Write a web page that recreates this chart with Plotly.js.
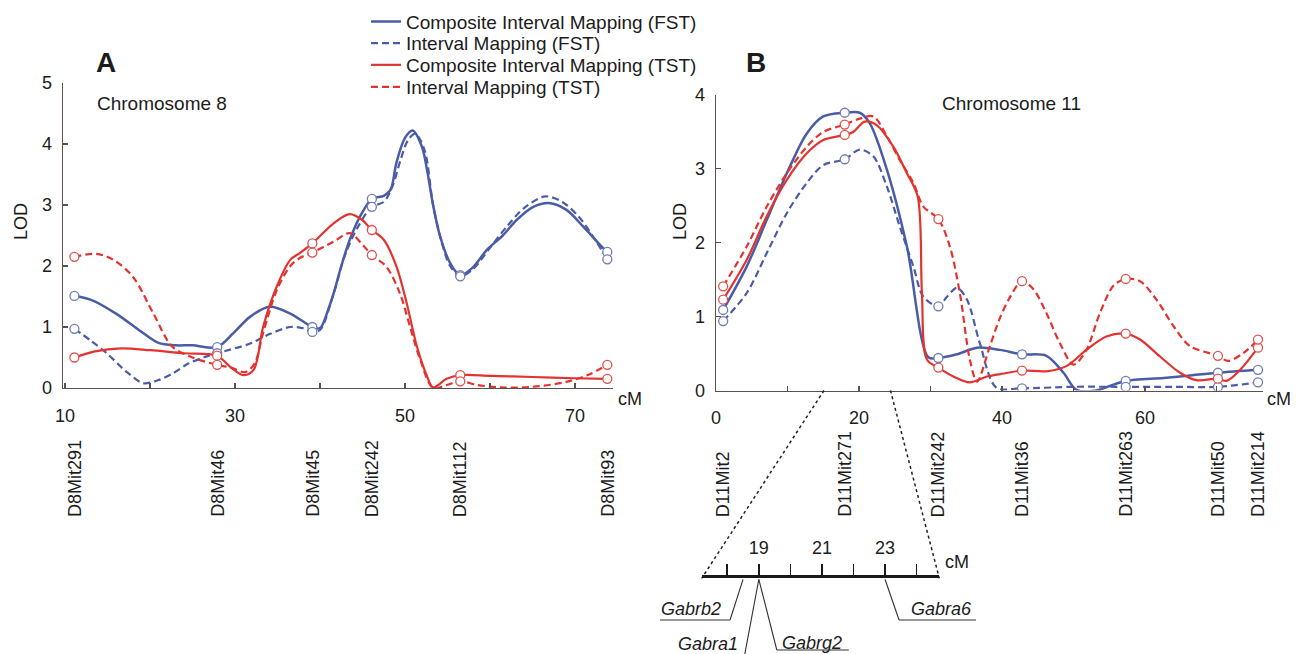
<!DOCTYPE html>
<html>
<head>
<meta charset="utf-8">
<script src="https://cdn.plot.ly/plotly-3.0.1.min.js"></script>
<style>html,body{margin:0;padding:0;background:#fff;}#chart{width:1300px;height:654px;}</style>
</head>
<body>
<div id="chart"></div>
<script>
// ---------------- DATA ----------------
const seriesNames = ['Composite Interval Mapping (FST)', 'Interval Mapping (FST)', 'Composite Interval Mapping (TST)', 'Interval Mapping (TST)'];

// Panel A : Chromosome 8
const markersA = ['D8Mit291', 'D8Mit46', 'D8Mit45', 'D8Mit242', 'D8Mit112', 'D8Mit93'];
const markerPosA = [11.1, 27.9, 39.1, 46.1, 56.5, 73.8];

const cimFstA_x = [11.1, 13, 16, 19, 21, 23, 25, 27.9, 29.8, 31.8, 34.1, 36.5, 39.1, 40, 41, 41.6, 42.5, 43.5, 44.7, 46.1, 47.5, 48.3, 49, 50, 50.9, 52, 52.6, 53.3, 54.1, 55.3, 56.5, 58, 59.6, 61.5, 63.1, 65.1, 67.1, 69, 71, 73, 73.8];
const cimFstA_y = [1.51, 1.45, 1.22, 0.92, 0.74, 0.70, 0.70, 0.67, 0.9, 1.17, 1.33, 1.22, 1.0, 0.98, 1.3, 1.55, 2.0, 2.43, 2.81, 3.1, 3.15, 3.25, 3.7, 4.1, 4.22, 3.95, 3.57, 3.0, 2.5, 2.05, 1.85, 1.98, 2.26, 2.5, 2.75, 2.97, 3.03, 2.92, 2.64, 2.34, 2.23];

const imFstA_x = [11.1, 13, 14.9, 17.2, 19.2, 21, 22.7, 24.5, 26.5, 27.9, 31.8, 34, 36.5, 38, 39.1, 40, 41.5, 43, 44.5, 46.1, 47.5, 48.5, 49.5, 50.3, 51.2, 52.3, 53.3, 54.3, 55.3, 56.5, 58, 60, 62, 64, 66.5, 68.5, 70.5, 72.5, 73.8];
const imFstA_y = [0.97, 0.78, 0.57, 0.27, 0.08, 0.13, 0.24, 0.4, 0.51, 0.57, 0.73, 0.88, 1.0, 0.98, 0.92, 0.95, 1.5, 2.2, 2.65, 2.97, 3.05, 3.3, 3.75, 4.05, 4.17, 3.9, 3.0, 2.4, 2.0, 1.83, 1.95, 2.3, 2.65, 2.95, 3.14, 3.05, 2.8, 2.4, 2.11];

const cimTstA_x = [11.1, 13.5, 16.6, 20, 24, 27.9, 29.4, 31, 32.2, 33.3, 34.9, 36.5, 37.6, 39.1, 41.6, 43.5, 45, 46.1, 47.5, 49, 50.2, 51.4, 52.6, 53.3, 54.9, 56.5, 60, 65, 70, 73.8];
const cimTstA_y = [0.5, 0.6, 0.65, 0.62, 0.57, 0.53, 0.35, 0.21, 0.3, 1.0, 1.66, 2.1, 2.21, 2.37, 2.7, 2.85, 2.75, 2.59, 2.43, 1.99, 1.39, 0.68, 0.19, 0.01, 0.15, 0.21, 0.2, 0.18, 0.16, 0.15];

const imTstA_x = [11.1, 13.7, 15.7, 18, 20.4, 22.6, 25, 27.9, 29.6, 31.2, 32.3, 33.3, 34.9, 36.5, 37.6, 39.1, 41.6, 43.5, 45, 46.1, 47.8, 49.4, 50.6, 51.8, 53.3, 54.9, 56.5, 58.5, 61.2, 65, 69, 71.8, 73.8];
const imTstA_y = [2.15, 2.2, 2.1, 1.82, 1.22, 0.68, 0.5, 0.38, 0.33, 0.26, 0.4, 0.9, 1.6, 2.0, 2.13, 2.22, 2.4, 2.54, 2.35, 2.18, 1.99, 1.55, 1.0, 0.46, 0.0, 0.05, 0.11, 0.05, 0.01, 0.02, 0.1, 0.23, 0.38];

// Panel B : Chromosome 11
const markersB = ['D11Mit2', 'D11Mit271', 'D11Mit242', 'D11Mit36', 'D11Mit263', 'D11Mit50', 'D11Mit214'];
const markerPosB = [1.0, 18.0, 31.1, 42.8, 57.3, 70.2, 75.8];

const cimFstB_x = [1.0, 4.3, 7.1, 9.9, 12.7, 15.0, 18.0, 20.1, 21.5, 23.9, 26.7, 29.7, 31.1, 33.7, 36.5, 39.7, 42.8, 46.2, 48.6, 50.4, 53.2, 55.6, 57.3, 62.6, 66, 70.2, 75.8];
const cimFstB_y = [1.09, 1.68, 2.31, 2.94, 3.48, 3.71, 3.76, 3.76, 3.62, 2.99, 1.95, 0.45, 0.44, 0.49, 0.58, 0.55, 0.49, 0.47, 0.24, 0.01, 0.0, 0.08, 0.13, 0.17, 0.2, 0.24, 0.28];

const imFstB_x = [1.0, 4.3, 7.1, 9.9, 12.7, 15.0, 18.0, 20.1, 22.0, 23.9, 25.7, 27.6, 29.0, 31.1, 32.3, 33.7, 35.1, 36.9, 39.2, 42.8, 50, 57.3, 64, 70.2, 75.8];
const imFstB_y = [0.94, 1.32, 1.86, 2.4, 2.81, 3.05, 3.13, 3.26, 3.17, 2.76, 2.22, 1.68, 1.27, 1.14, 1.27, 1.39, 1.23, 0.64, 0.04, 0.03, 0.05, 0.05, 0.05, 0.05, 0.11];

const cimTstB_x = [1.0, 4.3, 7.1, 9.9, 12.7, 15.0, 18.0, 19.2, 20.8, 22.5, 24.8, 26.7, 28.2, 28.8, 29.5, 31.1, 33.2, 35.5, 37.9, 40.3, 42.8, 46.2, 49.0, 51.8, 54.6, 57.3, 59.3, 62.1, 64.9, 67.2, 70.2, 71.4, 73.3, 75.8];
const cimTstB_y = [1.23, 1.77, 2.36, 2.85, 3.21, 3.39, 3.46, 3.5, 3.64, 3.59, 3.3, 2.94, 2.63, 1.32, 0.42, 0.31, 0.19, 0.11, 0.19, 0.23, 0.27, 0.26, 0.33, 0.55, 0.73, 0.77, 0.69, 0.46, 0.24, 0.14, 0.16, 0.13, 0.28, 0.58];

const imTstB_x = [1.0, 4.3, 7.1, 9.9, 12.7, 15.0, 18.0, 20.1, 22.0, 23.9, 25.7, 27.6, 29.0, 31.1, 32.7, 34.1, 35.5, 36.5, 38.3, 39.7, 41.1, 42.8, 44.4, 46.2, 48.1, 50.0, 51.8, 53.7, 55.6, 57.3, 59.3, 61.6, 64.0, 66.3, 70.2, 71.6, 73.8, 75.8];
const imTstB_y = [1.41, 1.95, 2.49, 2.94, 3.3, 3.5, 3.6, 3.68, 3.71, 3.44, 3.12, 2.81, 2.49, 2.32, 1.95, 1.32, 0.42, 0.12, 0.6, 0.98, 1.26, 1.48, 1.37, 1.05, 0.64, 0.35, 0.55, 1.05, 1.42, 1.51, 1.48, 1.23, 0.87, 0.6, 0.47, 0.4, 0.51, 0.69];

// Axis ticks
const xTicksA = [10, 20, 30, 40, 50, 60, 70];
const xTickTextA = ['10', '', '30', '', '50', '', '70'];
const yTicksA = [0, 1, 2, 3, 4, 5];
const xTicksB = [0, 10, 20, 30, 40, 50, 60, 70];
const xTickTextB = ['0', '', '20', '', '40', '', '60', ''];
const yTicksB = [0, 1, 2, 3, 4];

// Inset (expanded region of chromosome 11)
const insetTicks = [18, 19, 20, 21, 22, 23, 24];
const insetTickText = ['', '19', '', '21', '', '23', ''];
const insetRange = [17.19, 24.72];
const zoomFrom = [15.1, 24.4];
const geneNames = ['Gabrb2', 'Gabra1', 'Gabrg2', 'Gabra6'];
const genePos = [18.5, 19.0, 19.0, 23.0];

// ---------------- LAYOUT HELPERS ----------------
const W = 1300, H = 654;
const PX = p => p / W;
const PY = p => 1 - p / H;
const FONT = 'Liberation Sans, Arial, Helvetica, sans-serif';
const TXT = '#1c1c1c';
const BLUE = '#4b5ca6', RED = '#e3332f';
const BLUE_M = '#6e7db3', RED_M = '#e0504c';

const domA = {x: [PX(63), PX(613)], y: [PY(388), PY(83)]};
const domB = {x: [PX(716), PX(1263)], y: [PY(390.5), PY(95)]};
const rangeA = [9.76, 74.47];
const rangeB = [0, 76.5];
const insetY = 578.3;
const dom3 = {x: [PX(701.7), PX(939.3)], y: [PY(insetY) - 0.004, PY(insetY)]};

function pick(xs, ys, pos) { return pos.map(p => ys[xs.indexOf(p)]); }
function toPaper(dom, range, v) { return dom[0] + (v - range[0]) / (range[1] - range[0]) * (dom[1] - dom[0]); }

const DASH = '7px,4px';
const curves = [
  {panel: 'A', xs: cimFstA_x, ys: cimFstA_y, s: 0, color: BLUE, mc: BLUE_M, dash: 'solid', w: 2.5},
  {panel: 'A', xs: imFstA_x, ys: imFstA_y, s: 1, color: BLUE, mc: BLUE_M, dash: DASH, w: 2.2},
  {panel: 'A', xs: cimTstA_x, ys: cimTstA_y, s: 2, color: RED, mc: RED_M, dash: 'solid', w: 2.2},
  {panel: 'A', xs: imTstA_x, ys: imTstA_y, s: 3, color: RED, mc: RED_M, dash: DASH, w: 2.2},
  {panel: 'B', xs: cimFstB_x, ys: cimFstB_y, s: 0, color: BLUE, mc: BLUE_M, dash: 'solid', w: 2.5},
  {panel: 'B', xs: imFstB_x, ys: imFstB_y, s: 1, color: BLUE, mc: BLUE_M, dash: DASH, w: 2.2},
  {panel: 'B', xs: cimTstB_x, ys: cimTstB_y, s: 2, color: RED, mc: RED_M, dash: 'solid', w: 2.2},
  {panel: 'B', xs: imTstB_x, ys: imTstB_y, s: 3, color: RED, mc: RED_M, dash: DASH, w: 2.2}
];
const legendIds = ['legend', 'legend2', 'legend3', 'legend4'];

const traces = [];
curves.forEach(c => {
  const isA = c.panel === 'A';
  traces.push({
    type: 'scatter', mode: 'lines', x: c.xs, y: c.ys,
    xaxis: isA ? 'x' : 'x2', yaxis: isA ? 'y' : 'y2',
    name: seriesNames[c.s], showlegend: isA, legend: legendIds[c.s],
    line: {color: c.color, width: c.w, dash: c.dash, shape: 'spline', smoothing: 0.9},
    hoverinfo: 'skip'
  });
});
curves.forEach(c => {
  const isA = c.panel === 'A';
  const pos = isA ? markerPosA : markerPosB;
  traces.push({
    type: 'scatter', mode: 'markers', x: pos, y: pick(c.xs, c.ys, pos),
    xaxis: isA ? 'x' : 'x2', yaxis: isA ? 'y' : 'y2', showlegend: false,
    marker: {symbol: 'circle', size: 9, color: 'white', line: {color: c.mc, width: 1.3}},
    hoverinfo: 'skip'
  });
});
// invisible trace so that the inset axis (x3/y3) is created and drawn
traces.push({
  type: 'scatter', mode: 'markers', x: genePos, y: genePos.map(() => 0.5),
  xaxis: 'x3', yaxis: 'y3', showlegend: false, marker: {opacity: 0, size: 1}, hoverinfo: 'skip'
});

const axisCommon = {
  showgrid: false, zeroline: false, showline: true, linecolor: '#5a5050', linewidth: 1.4,
  ticks: 'inside', ticklen: 5, tickwidth: 1.2, tickcolor: '#5a5050',
  tickfont: {family: FONT, size: 18, color: TXT}, fixedrange: true
};

const annotations = [];
function ann(x, y, text, opts) {
  annotations.push(Object.assign({
    xref: 'paper', yref: 'paper', x: PX(x), y: PY(y), text: text, showarrow: false,
    font: {family: FONT, size: 18, color: TXT}, xanchor: 'center', yanchor: 'middle'
  }, opts || {}));
}
ann(106, 62, '<b>A</b>', {font: {family: FONT, size: 28, color: TXT}});
ann(756, 62, '<b>B</b>', {font: {family: FONT, size: 28, color: TXT}});
ann(95, 104, 'Chromosome 8', {xanchor: 'left', font: {family: FONT, size: 19, color: TXT}});
ann(940, 104, 'Chromosome 11', {xanchor: 'left', font: {family: FONT, size: 19, color: TXT}});
ann(21, 222, 'LOD', {textangle: -90});
ann(680, 222, 'LOD', {textangle: -90});
ann(630, 399, 'cM');
ann(1279, 399, 'cM');
ann(957, 562, 'cM');

markersA.forEach((m, i) => annotations.push({
  xref: 'x', yref: 'paper', x: markerPosA[i], y: PY(519), text: m, textangle: -90, showarrow: false,
  xanchor: 'center', yanchor: 'bottom', font: {family: FONT, size: 18, color: TXT}
}));
markersB.forEach((m, i) => annotations.push({
  xref: 'x2', yref: 'paper', x: markerPosB[i], y: PY(519), text: m, textangle: -90, showarrow: false,
  xanchor: 'center', yanchor: 'bottom', font: {family: FONT, size: 18, color: TXT}
}));

// shapes: zoom connectors + gene callouts
const shapes = [];
const lineStyle = {color: '#333', width: 1.1};
[0, 1].forEach(k => {
  shapes.push({
    type: 'line', xref: 'paper', yref: 'paper',
    x0: toPaper(domB.x, rangeB, zoomFrom[k]), y0: domB.y[0],
    x1: dom3.x[k], y1: PY(insetY),
    line: {color: '#222', width: 1.5, dash: 'dot'}
  });
});
// callout geometry (pixel offsets): [dxKnee, yKnee, dxEnd, yEnd, textSide, textDx, textY]
const callout = [
  [-13, 620, -83, 620, 'right', -20, 609],
  [-14, 654, -14, 654, 'right', -19, 644],
  [18, 650, 90, 650, 'left', 21, 643],
  [14, 620, 91, 620, 'left', 24, 609]
];
geneNames.forEach((g, i) => {
  const gx = toPaper(dom3.x, insetRange, genePos[i]) * W;
  const c = callout[i];
  shapes.push({type: 'line', xref: 'paper', yref: 'paper', x0: PX(gx), y0: PY(insetY + 1), x1: PX(gx + c[0]), y1: PY(c[1]), line: lineStyle});
  if (c[2] !== c[0]) shapes.push({type: 'line', xref: 'paper', yref: 'paper', x0: PX(gx + c[0]), y0: PY(c[1]), x1: PX(gx + c[2]), y1: PY(c[3]), line: lineStyle});
  annotations.push({
    xref: 'paper', yref: 'paper', x: PX(gx + c[5]), y: PY(c[6]), text: '<i>' + g + '</i>', showarrow: false,
    xanchor: c[4] === 'right' ? 'right' : 'left', yanchor: 'middle',
    font: {family: FONT, size: 18, color: TXT}
  });
});

const legendBase = (row) => ({
  x: PX(366), y: PY(row), xanchor: 'left', yanchor: 'middle', bgcolor: 'rgba(0,0,0,0)',
  borderwidth: 0, font: {family: FONT, size: 19, color: TXT}, itemclick: false, itemdoubleclick: false
});

const layout = {
  width: W, height: H, margin: {l: 0, r: 0, t: 0, b: 0},
  paper_bgcolor: 'white', plot_bgcolor: 'rgba(0,0,0,0)',
  showlegend: true,
  legend: legendBase(21.7), legend2: legendBase(43.2), legend3: legendBase(65), legend4: legendBase(87),
  xaxis: Object.assign({}, axisCommon, {domain: domA.x, range: rangeA, anchor: 'y', tickvals: xTicksA, ticktext: xTickTextA, ticklabelstandoff: 11}),
  yaxis: Object.assign({}, axisCommon, {domain: domA.y, range: [0, 5], anchor: 'x', tickvals: yTicksA, ticklabelstandoff: 6}),
  xaxis2: Object.assign({}, axisCommon, {domain: domB.x, range: rangeB, anchor: 'y2', tickvals: xTicksB, ticktext: xTickTextB, ticklabelstandoff: 10}),
  yaxis2: Object.assign({}, axisCommon, {domain: domB.y, range: [0, 4], anchor: 'x2', tickvals: yTicksB, ticklabelstandoff: 6}),
  xaxis3: {domain: dom3.x, range: insetRange, anchor: 'y3', side: 'top', showgrid: false, zeroline: false,
    showline: true, linewidth: 3.5, linecolor: '#1a1a1a', ticks: 'outside', ticklen: 11, tickwidth: 1.6, tickcolor: '#1a1a1a',
    tickvals: insetTicks, ticktext: insetTickText, tickfont: {family: FONT, size: 18, color: TXT}, ticklabelstandoff: 3, fixedrange: true},
  yaxis3: {domain: dom3.y, range: [0, 1], anchor: 'x3', visible: false, fixedrange: true},
  annotations: annotations,
  shapes: shapes
};

Plotly.newPlot('chart', traces, layout, {displayModeBar: false, staticPlot: true});
</script>
</body>
</html>
